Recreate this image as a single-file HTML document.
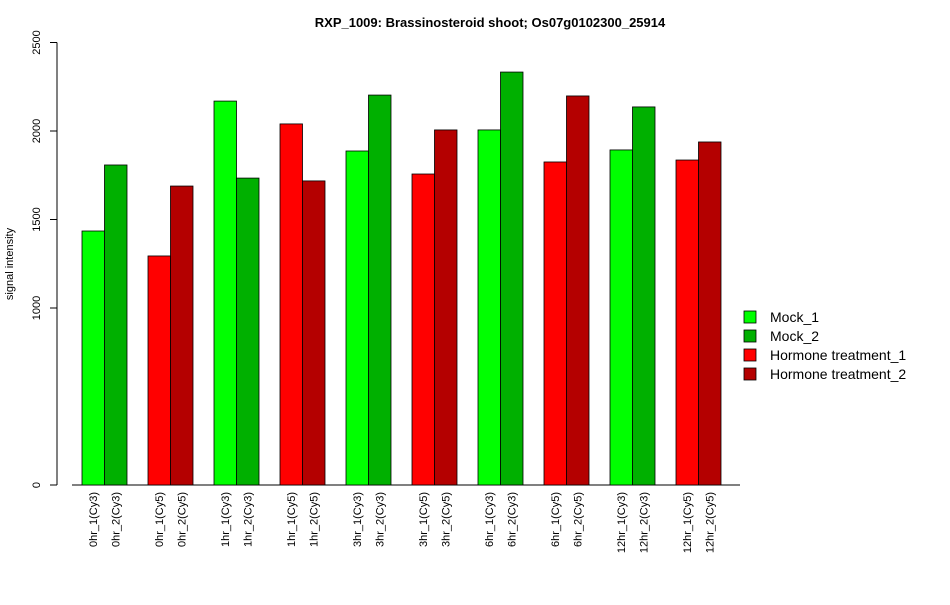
<!DOCTYPE html>
<html><head><meta charset="utf-8"><style>
body{margin:0;background:#fff;font-family:"Liberation Sans",sans-serif}
</style></head><body>
<svg width="950" height="600" xmlns="http://www.w3.org/2000/svg" font-family="Liberation Sans, sans-serif">
<text x="490" y="27" text-anchor="middle" font-weight="bold" font-size="13">RXP_1009: Brassinosteroid shoot; Os07g0102300_25914</text>
<text transform="translate(13,264) rotate(-90)" text-anchor="middle" font-size="11">signal intensity</text>
<g id="axes"></g><g id="bars"></g><g id="legend"></g>
</svg>
<script>
const categories=["0hr_1(Cy3)","0hr_2(Cy3)","0hr_1(Cy5)","0hr_2(Cy5)","1hr_1(Cy3)","1hr_2(Cy3)","1hr_1(Cy5)","1hr_2(Cy5)","3hr_1(Cy3)","3hr_2(Cy3)","3hr_1(Cy5)","3hr_2(Cy5)","6hr_1(Cy3)","6hr_2(Cy3)","6hr_1(Cy5)","6hr_2(Cy5)","12hr_1(Cy3)","12hr_2(Cy3)","12hr_1(Cy5)","12hr_2(Cy5)"];
const values=[1435,1808,1294,1689,2169,1734,2040,1718,1887,2203,1757,2006,2006,2333,1825,2198,1893,2136,1836,1938];
const seriesIndex=[0,1,2,3,0,1,2,3,0,1,2,3,0,1,2,3,0,1,2,3];
const seriesNames=["Mock_1","Mock_2","Hormone treatment_1","Hormone treatment_2"];
const seriesColors=["#00ff00","#00b000","#ff0000","#b40000"];
const yTicks=[0,1000,1500,2000,2500];
const NS="http://www.w3.org/2000/svg";
function y(v){return 485-v*(442.5/2500);}
function x(i){return 82+Math.floor(i/2)*66+(i%2)*22.5;}
function mk(t,a,p){const e=document.createElementNS(NS,t);for(const k in a)e.setAttribute(k,a[k]);p.appendChild(e);return e;}
const ax=document.getElementById('axes'),bg=document.getElementById('bars'),lg=document.getElementById('legend');
const yl=mk('line',{x1:57,x2:57,y1:y(2500),y2:y(0),stroke:'#000'},ax);


yTicks.forEach(t=>{
 mk('line',{x1:50,x2:57,y1:y(t),y2:y(t),stroke:'#000'},ax);
 const tx=mk('text',{transform:`translate(40,${y(t)}) rotate(-90)`,'text-anchor':'middle','font-size':11},ax);
 tx.textContent=t;
 
 
});
const xl=mk('line',{x1:72,x2:740,y1:485,y2:485,stroke:'#000'},ax);


values.forEach((v,i)=>{
 const r=mk('rect',{x:x(i),y:y(v),width:22.5,height:y(0)-y(v),fill:seriesColors[seriesIndex[i]],stroke:'#000','stroke-width':0.8},bg);
 
 
 const t=mk('text',{transform:`translate(${x(i)+15},492) rotate(-90)`,'text-anchor':'end','font-size':11},bg);
 t.textContent=categories[i];
 
 
});
seriesNames.forEach((n,i)=>{
 const yy=311+i*19;
 const r=mk('rect',{x:744,y:yy,width:12,height:12,fill:seriesColors[i],stroke:'#000','stroke-width':0.8},lg);
 
 
 const t=mk('text',{x:770,y:yy+11,'font-size':14},lg);
 t.textContent=n;
 
 
});
</script>
</body></html>
